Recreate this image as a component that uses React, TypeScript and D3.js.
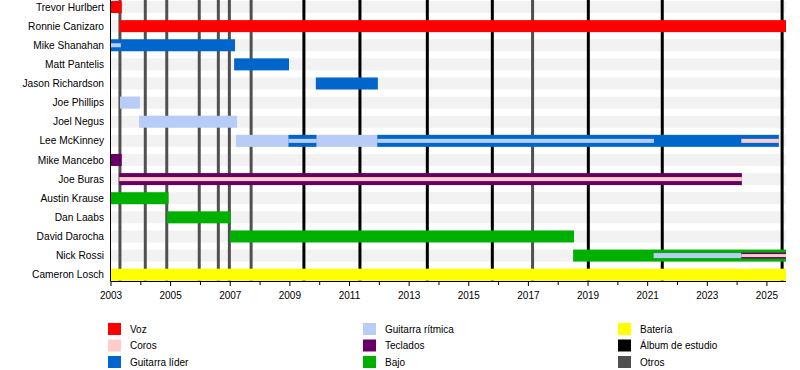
import React from "react";
import * as d3 from "d3";

const END = 2025.64;

const members = [
  "Trevor Hurlbert",
  "Ronnie Canizaro",
  "Mike Shanahan",
  "Matt Pantelis",
  "Jason Richardson",
  "Joe Phillips",
  "Joel Negus",
  "Lee McKinney",
  "Mike Mancebo",
  "Joe Buras",
  "Austin Krause",
  "Dan Laabs",
  "David Darocha",
  "Nick Rossi",
  "Cameron Losch",
];

// role colours
const roles: Record<string, string> = {
  voz: "#ff0000",
  coros: "#ffcccc",
  lider: "#0066cc",
  ritmica: "#b7cdf7",
  teclados: "#660066",
  bajo: "#00b000",
  bateria: "#ffff00",
  album: "#000000",
  otros: "#505050",
};

// full-width bars: [member, from, till, role]
const fullBars: [string, number, number, string][] = [
  ["Trevor Hurlbert", 2003.0, 2003.36, "voz"],
  ["Ronnie Canizaro", 2003.28, END, "voz"],
  ["Mike Shanahan", 2003.0, 2007.16, "lider"],
  ["Matt Pantelis", 2007.13, 2008.97, "lider"],
  ["Jason Richardson", 2009.87, 2011.95, "lider"],
  ["Joe Phillips", 2003.3, 2003.97, "ritmica"],
  ["Joel Negus", 2003.94, 2007.23, "ritmica"],
  ["Lee McKinney", 2007.19, 2008.95, "ritmica"],
  ["Lee McKinney", 2008.95, 2009.9, "lider"],
  ["Lee McKinney", 2009.9, 2011.93, "ritmica"],
  ["Lee McKinney", 2011.93, 2025.4, "lider"],
  ["Mike Mancebo", 2003.0, 2003.36, "teclados"],
  ["Joe Buras", 2003.28, 2024.16, "teclados"],
  ["Austin Krause", 2003.0, 2004.93, "bajo"],
  ["Dan Laabs", 2004.88, 2007.01, "bajo"],
  ["David Darocha", 2006.99, 2018.53, "bajo"],
  ["Nick Rossi", 2018.5, END, "bajo"],
  ["Cameron Losch", 2003.0, END, "bateria"],
];

// thin stripes inside bars: [member, from, till, role, height]
const stripes: [string, number, number, string, number][] = [
  ["Mike Shanahan", 2003.0, 2003.33, "ritmica", 4],
  ["Lee McKinney", 2008.95, 2009.9, "ritmica", 4],
  ["Lee McKinney", 2011.93, 2021.21, "ritmica", 4],
  ["Lee McKinney", 2024.14, 2025.4, "coros", 4],
  ["Joe Buras", 2003.28, 2024.16, "coros", 4],
  ["Nick Rossi", 2021.2, END, "ritmica", 5],
  ["Nick Rossi", 2024.14, END, "teclados", 6],
  ["Nick Rossi", 2024.14, END, "coros", 3],
];

const albumLines = [2009.47, 2011.35, 2013.61, 2015.79, 2019.01, 2021.49, 2025.51];
const otherLines = [2003.3, 2004.15, 2004.87, 2005.96, 2006.6, 2006.97, 2007.7, 2017.14];

const tickYears = d3.range(2003, 2026);
const labelYears = [2003, 2005, 2007, 2009, 2011, 2013, 2015, 2017, 2019, 2021, 2023, 2025];

const legendItems: [string, string][] = [
  ["Voz", "voz"],
  ["Coros", "coros"],
  ["Guitarra líder", "lider"],
  ["Guitarra rítmica", "ritmica"],
  ["Teclados", "teclados"],
  ["Bajo", "bajo"],
  ["Batería", "bateria"],
  ["Álbum de estudio", "album"],
  ["Otros", "otros"],
];

const FONT = "'Liberation Sans', Arial, sans-serif";

export default function App() {
  const x = d3.scaleLinear().domain([2003, END]).range([111, 786]);
  const y = d3.scalePoint<string>().domain(members).range([7, 274.7]);
  const barH = 12;
  const axisY = 281;
  const legendX = [108, 363, 618];
  const legendTextX = [130, 385, 640];
  const legendY = [329, 345.5, 362];

  return (
    <svg
      width={800}
      height={370}
      style={{ position: "absolute", left: 0, top: 0, background: "#fff" }}
      fontFamily={FONT}
    >
      {/* row background stripes */}
      {members.map((m) => (
        <rect
          key={"bg" + m}
          x={x(2003)}
          width={x(END) - x(2003)}
          y={(y(m) as number) - barH / 2}
          height={barH}
          fill="#f2f2f2"
        />
      ))}
      {/* vertical event lines */}
      {otherLines.map((v) => (
        <line key={"o" + v} x1={x(v)} x2={x(v)} y1={0} y2={axisY} stroke={roles.otros} strokeWidth={3} />
      ))}
      {albumLines.map((v) => (
        <line key={"a" + v} x1={x(v)} x2={x(v)} y1={0} y2={axisY} stroke={roles.album} strokeWidth={3} />
      ))}
      {/* bars */}
      {fullBars.map(([m, a, b, r], i) => (
        <rect
          key={"b" + i}
          x={x(a)}
          width={x(b) - x(a)}
          y={(y(m) as number) - barH / 2}
          height={barH}
          fill={roles[r]}
        />
      ))}
      {stripes.map(([m, a, b, r, h], i) => (
        <rect
          key={"s" + i}
          x={x(a)}
          width={x(b) - x(a)}
          y={(y(m) as number) - h / 2}
          height={h}
          fill={roles[r]}
        />
      ))}
      {/* axes */}
      <line x1={110.5} x2={110.5} y1={0} y2={axisY} stroke="#000" strokeWidth={1} />
      <line x1={110.5} x2={x(END)} y1={axisY + 0.5} y2={axisY + 0.5} stroke="#000" strokeWidth={1} />
      {tickYears.map((t) => (
        <line
          key={"t" + t}
          x1={x(t)}
          x2={x(t)}
          y1={axisY}
          y2={axisY + (labelYears.includes(t) ? 5 : 4)}
          stroke="#000"
          strokeWidth={1}
        />
      ))}
      {labelYears.map((t) => (
        <text key={"l" + t} x={x(t)} y={298.5} fontSize={10} textAnchor="middle" fill="#000">
          {t}
        </text>
      ))}
      {/* row labels */}
      {members.map((m) => (
        <text key={"n" + m} x={104} y={(y(m) as number) + 3.6} fontSize={10.2} textAnchor="end" fill="#000">
          {m}
        </text>
      ))}
      {/* legend */}
      {legendItems.map(([label, r], i) => {
        const col = Math.floor(i / 3);
        const row = i % 3;
        return (
          <g key={"lg" + label}>
            <rect x={legendX[col]} y={legendY[row] - 6} width={13} height={12} fill={roles[r]} />
            <text x={legendTextX[col]} y={legendY[row] + 3.6} fontSize={10} fill="#000">
              {label}
            </text>
          </g>
        );
      })}
    </svg>
  );
}
